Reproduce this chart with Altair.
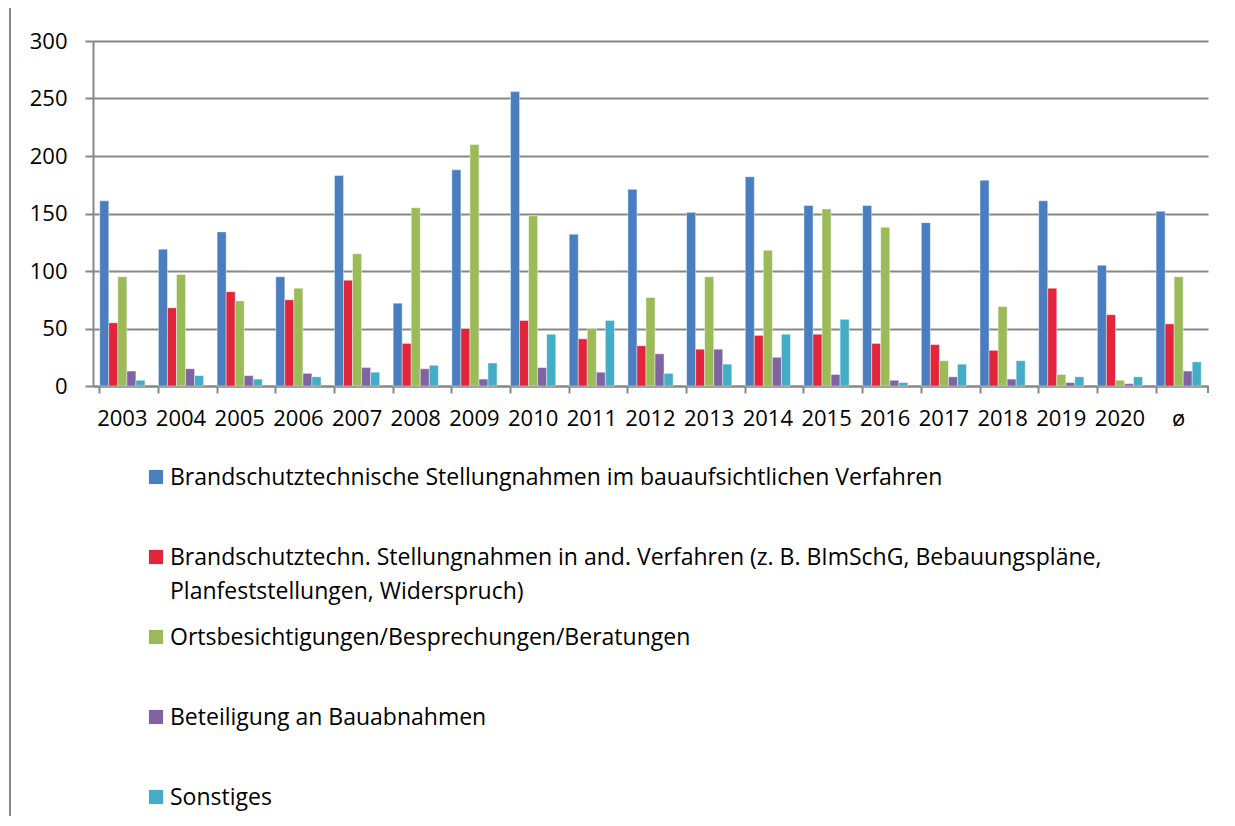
import altair as alt
import pandas as pd

years = ["2003", "2004", "2005", "2006", "2007", "2008", "2009", "2010", "2011",
         "2012", "2013", "2014", "2015", "2016", "2017", "2018", "2019", "2020", "ø"]

series = [
    "Brandschutztechnische Stellungnahmen im bauaufsichtlichen Verfahren",
    "Brandschutztechn. Stellungnahmen in and. Verfahren (z. B. BImSchG, Bebauungspläne, Planfeststellungen, Widerspruch)",
    "Ortsbesichtigungen/Besprechungen/Beratungen",
    "Beteiligung an Bauabnahmen",
    "Sonstiges",
]
legend_labels = [
    "Brandschutztechnische Stellungnahmen im bauaufsichtlichen Verfahren",
    "Brandschutztechn. Stellungnahmen in and. Verfahren (z. B. BImSchG, Bebauungspläne,\nPlanfeststellungen, Widerspruch)",
    "Ortsbesichtigungen/Besprechungen/Beratungen",
    "Beteiligung an Bauabnahmen",
    "Sonstiges",
]
colors = ["#4A7EBF", "#E1253C", "#9BBB59", "#8064A2", "#43ACC7"]

stellungnahmen_bau = [161, 119, 134, 95, 183, 72, 188, 256, 132, 171, 151, 182, 157, 157, 142, 179, 161, 105, 152]
stellungnahmen_and = [55, 68, 82, 75, 92, 37, 50, 57, 41, 35, 32, 44, 45, 37, 36, 31, 85, 62, 54]
ortsbesichtigungen = [95, 97, 74, 85, 115, 155, 210, 148, 50, 77, 95, 118, 154, 138, 22, 69, 10, 5, 95]
bauabnahmen = [13, 15, 9, 11, 16, 15, 6, 16, 12, 28, 32, 25, 10, 5, 8, 6, 3, 2, 13]
sonstiges = [5, 9, 6, 8, 12, 18, 20, 45, 57, 11, 19, 45, 58, 3, 19, 22, 8, 8, 21]

values = [stellungnahmen_bau, stellungnahmen_and, ortsbesichtigungen, bauabnahmen, sonstiges]

rows = []
for i, yr in enumerate(years):
    for j, name in enumerate(series):
        rows.append({"Jahr": yr, "Kategorie": name, "Wert": values[j][i]})
df = pd.DataFrame(rows)
leg = pd.DataFrame({"Kategorie": series, "Label": legend_labels})

W, H = 1115, 345
grid_col = "#878787"
font = "Open Sans"

color = alt.Color("Kategorie:N", sort=series,
                  scale=alt.Scale(domain=series, range=colors), legend=None)

bars = alt.Chart(df).mark_bar(stroke="white", strokeWidth=0.6, strokeOpacity=0.7).encode(
    x=alt.X("Jahr:N", sort=years,
            scale=alt.Scale(paddingInner=0.23, paddingOuter=0.115),
            axis=alt.Axis(title=None, labelAngle=0, bandPosition=0,
                          tickSize=7, tickColor=grid_col, tickWidth=2,
                          domainColor=grid_col, domainWidth=2,
                          labelFontSize=22, labelFont=font, labelColor="#000000",
                          labelPadding=15, labelBaseline="top")),
    xOffset=alt.XOffset("Kategorie:N", sort=series,
                        scale=alt.Scale(paddingInner=0, paddingOuter=0)),
    y=alt.Y("Wert:Q", scale=alt.Scale(domain=[0, 300], nice=False),
            axis=alt.Axis(title=None, values=[0, 50, 100, 150, 200, 250, 300],
                          tickSize=8, tickColor=grid_col, tickWidth=2,
                          grid=True, gridColor=grid_col, gridWidth=2,
                          domainColor=grid_col, domainWidth=2,
                          labelFontSize=22, labelFont=font, labelColor="#000000",
                          labelPadding=18)),
    color=color,
)

end_tick = alt.Chart(df).mark_rule(color=grid_col, strokeWidth=2).encode(
    x=alt.value(W), y=alt.value(H), y2=alt.value(H + 7)
)

frame = alt.Chart(df).mark_rule(color=grid_col, strokeWidth=2).encode(
    x=alt.value(-83), y=alt.value(-41), y2=alt.value(790)
)

leg_y = alt.Y("Kategorie:N", sort=series, axis=None,
              scale=alt.Scale(range=[396, 796], paddingInner=0, paddingOuter=0))

leg_sq = alt.Chart(leg).mark_square(size=200, opacity=1).encode(
    x=alt.value(63), y=leg_y, color=color
)
leg_tx = alt.Chart(leg).mark_text(align="left", baseline="alphabetic", dy=8,
                                  lineBreak="\n", lineHeight=34,
                                  font=font, fontSize=23, color="#000000").encode(
    x=alt.value(77), y=leg_y, text="Label:N"
)

chart = alt.layer(bars, end_tick, frame, leg_sq, leg_tx).resolve_scale(
    y="independent"
).properties(
    width=W, height=H,
    autosize=alt.AutoSizeParams(type="none"),
    padding={"left": 85, "top": 33, "right": 15, "bottom": 430},
).configure_view(strokeWidth=0)

chart.save("out.html", embed_options={"renderer": "svg", "actions": False})
